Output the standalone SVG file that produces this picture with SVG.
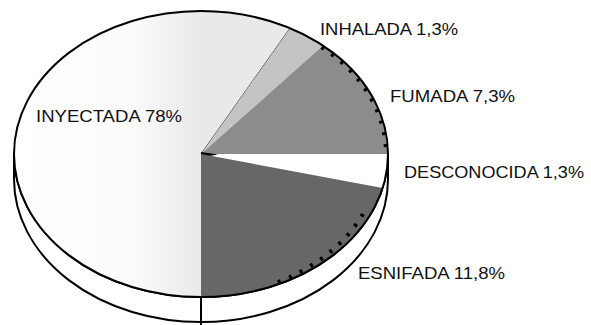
<svg xmlns="http://www.w3.org/2000/svg" width="591" height="325" viewBox="0 0 591 325">
  <style>
    .lbl { font-family: "Liberation Sans", Arial, sans-serif; font-size: 17px; fill: #111; }
    .outline { fill: none; stroke: #000; stroke-width: 2; }
    .rim { fill: none; stroke: #000; stroke-width: 4; stroke-dasharray: 3 9; }
  </style>
  <defs>
    <linearGradient id="gInj" gradientUnits="userSpaceOnUse" x1="14" y1="0" x2="201" y2="0">
      <stop offset="0" stop-color="#ffffff"/>
      <stop offset="0.6" stop-color="#fcfcfc"/>
      <stop offset="1" stop-color="#e9e9e9"/>
    </linearGradient>
  </defs>
  <rect width="591" height="325" fill="#fff"/>

  <g id="side-wall">
    <path d="M14,154 L14,179 A187,143 0 0 0 388,179 L388,154 A187,143 0 0 1 14,154 Z" fill="#fff" stroke="#000" stroke-width="2"/>
    <line x1="201" y1="297" x2="201" y2="325" stroke="#000" stroke-width="2"/>
  </g>

  <g id="inyectada">
    <path d="M201,154 L290,28.3 A187,143 0 1 0 201,297 Z" fill="url(#gInj)"/>
    <line x1="201" y1="154" x2="290" y2="28.3" stroke="#222" stroke-width="1"/>
    <text class="lbl" x="36" y="122" textLength="146" lengthAdjust="spacingAndGlyphs">INYECTADA 78%</text>
  </g>

  <g id="inhalada">
    <path d="M201,154 L323,45.6 A187,143 0 0 0 290,28.3 Z" fill="#c4c4c4"/>
    <text class="lbl" x="320" y="35" textLength="138" lengthAdjust="spacingAndGlyphs">INHALADA 1,3%</text>
  </g>

  <g id="fumada">
    <path d="M201,154 L388,154 A187,143 0 0 0 323,45.6 Z" fill="#8c8c8c"/>
    <path class="rim" d="M321.6,47.1 A185,141 0 0 1 386,154"/>
    <text class="lbl" x="390" y="102" textLength="125" lengthAdjust="spacingAndGlyphs">FUMADA 7,3%</text>
  </g>

  <g id="desconocida">
    <path d="M201,154 L382.6,188 A187,143 0 0 0 388,154 Z" fill="#fff"/>
    <polygon points="201,152 218,154.6 201,157.5" fill="#000"/>
    <text class="lbl" x="404" y="178" textLength="180" lengthAdjust="spacingAndGlyphs">DESCONOCIDA 1,3%</text>
  </g>

  <g id="esnifada">
    <path d="M201,154 L201,297 A187,143 0 0 0 382.6,188 Z" fill="#676767"/>
    <path class="rim" d="M363,214 A185,141 0 0 1 270,285"/>
    <text class="lbl" x="358" y="279" textLength="147" lengthAdjust="spacingAndGlyphs">ESNIFADA 11,8%</text>
  </g>

  <g id="connectors">
    <ellipse class="outline" cx="201" cy="154" rx="187" ry="143"/>
  </g>
</svg>
